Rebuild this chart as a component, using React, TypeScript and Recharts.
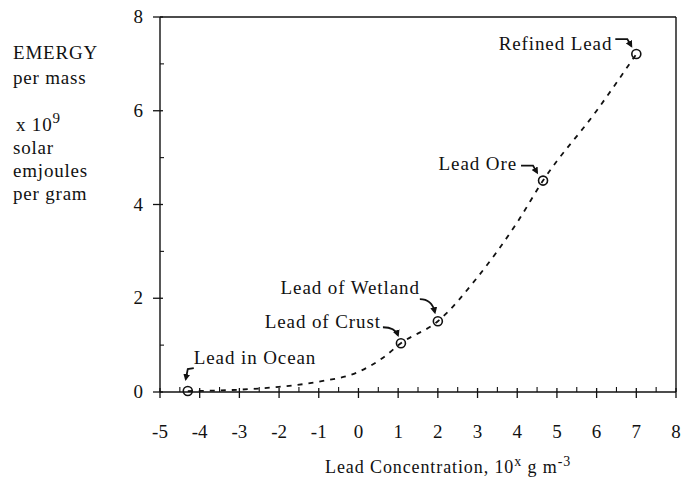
import React from "react";
import { ComposedChart, Line, Scatter, XAxis, YAxis, ReferenceLine } from "recharts";

// measured points (concentration exponent, emergy x 1e9 sej/g)
const pointNames = ["Lead in Ocean", "Lead of Crust", "Lead of Wetland", "Lead Ore", "Refined Lead"];
const pointX = [-4.3, 1.07, 2.0, 4.65, 7.0];
const pointY = [0.02, 1.04, 1.51, 4.51, 7.21];

// dashed trend curve
const curveX = [-4.3, -3, -2, -1, 0, 0.6, 1.07, 2.0, 3, 4, 4.65, 6, 7.0];
const curveY = [0.02, 0.05, 0.11, 0.22, 0.43, 0.72, 1.04, 1.51, 2.45, 3.62, 4.51, 6.0, 7.21];

const xTicks = Array.from({ length: 27 }, (_, i) => -5 + i * 0.5);
const yTicks = [0, 1, 2, 3, 4, 5, 6, 7, 8];

const points = pointNames.map((name, i) => ({ name, x: pointX[i], y: pointY[i] }));
const curve = curveX.map((x, i) => ({ x, y: curveY[i] }));

const FONT = "'Liberation Serif', 'DejaVu Serif', serif";
const INK = "#111";

// where each label sits relative to its marker, plus the little hooked arrow
const labelLayout: Record<string, { dx: number; dy: number; anchor: string; arrow: string }> = {
  "Lead in Ocean": { dx: 6, dy: -27, anchor: "start", arrow: "M6,-23 L0,-22 L-2,-12" },
  "Lead of Crust": { dx: -20, dy: -15, anchor: "end", arrow: "M-18,-16 Q-6,-16 -3,-8" },
  "Lead of Wetland": { dx: -18, dy: -27, anchor: "end", arrow: "M-18,-22 Q-6,-22 -3,-9" },
  "Lead Ore": { dx: -26, dy: -11, anchor: "end", arrow: "M-22,-15 L-10,-15 L-6,-8" },
  "Refined Lead": { dx: -24, dy: -4, anchor: "end", arrow: "M-21,-15 L-9,-15 L-5,-8" },
};

function PointShape(props: any) {
  const { cx, cy, payload, index } = props;
  const lay = labelLayout[payload.name];
  const id = `arr${index}`;
  return (
    <g>
      <defs>
        <marker id={id} markerWidth="7" markerHeight="7" refX="5" refY="3.5" orient="auto" markerUnits="userSpaceOnUse">
          <path d="M0,0 L7,3.5 L0,7 Z" fill={INK} />
        </marker>
      </defs>
      <circle cx={cx} cy={cy} r={4.5} fill="none" stroke={INK} strokeWidth={1.6} />
      <text x={cx + lay.dx} y={cy + lay.dy} textAnchor={lay.anchor} fontFamily={FONT} fontSize={19} letterSpacing={0.9} fill={INK}>
        {payload.name}
      </text>
      <path d={lay.arrow} transform={`translate(${cx},${cy})`} fill="none" stroke={INK} strokeWidth={1.8} markerEnd={`url(#${id})`} />
    </g>
  );
}

function XTick(props: any) {
  const { x, y, payload } = props;
  const v = payload.value;
  const major = Number.isInteger(v);
  return (
    <g>
      {major ? (
        <line x1={x} x2={x} y1={y - 4} y2={y + 6} stroke={INK} strokeWidth={1.3} />
      ) : (
        <line x1={x} x2={x} y1={y - 5} y2={y} stroke={INK} strokeWidth={1.1} />
      )}
      {major && (
        <text x={x} y={y + 46} textAnchor="middle" fontFamily={FONT} fontSize={19} fill={INK}>
          {String(v)}
        </text>
      )}
    </g>
  );
}

function YTick(props: any) {
  const { x, y, payload } = props;
  const v = payload.value;
  const major = v % 2 === 0;
  return (
    <g>
      {major ? (
        <line x1={x - 7} x2={x + 3} y1={y} y2={y} stroke={INK} strokeWidth={1.3} />
      ) : (
        <line x1={x} x2={x + 4} y1={y} y2={y} stroke={INK} strokeWidth={1.1} />
      )}
      {major && (
        <text x={x - 17} y={y + 6} textAnchor="end" fontFamily={FONT} fontSize={19} fill={INK}>
          {String(v)}
        </text>
      )}
    </g>
  );
}

function YTitle() {
  const t = { fontFamily: FONT, fontSize: 19, fill: INK, letterSpacing: 0.8 } as any;
  return (
    <g>
      <text x={13} y={59} {...t}>EMERGY</text>
      <text x={13} y={84} {...t}>per mass</text>
      <text x={16} y={131} {...t}>
        x 10<tspan fontSize={15} dy={-8}>9</tspan>
      </text>
      <text x={13} y={154} {...t}>solar</text>
      <text x={13} y={177} {...t}>emjoules</text>
      <text x={13} y={200} {...t}>per gram</text>
    </g>
  );
}

function XTitle() {
  return (
    <text x={325} y={473} fontFamily={FONT} fontSize={18} letterSpacing={0.9} fill={INK}>
      Lead Concentration, 10<tspan fontSize={14} dy={-7}>x</tspan>
      <tspan dy={7}> g m</tspan>
      <tspan fontSize={14} dy={-7}>-3</tspan>
    </text>
  );
}

export default function App() {
  return (
    <div style={{ position: "absolute", left: 0, top: 0, background: "#fff" }}>
      <ComposedChart width={683} height={478} margin={{ top: 17, right: 7, left: 0, bottom: 0 }}>
        <XAxis
          dataKey="x"
          type="number"
          domain={[-5, 8]}
          ticks={xTicks}
          interval={0}
          height={86}
          tickSize={0}
          tickMargin={0}
          tickLine={false}
          axisLine={{ stroke: INK, strokeWidth: 1.4 }}
          tick={<XTick />}
          label={{ content: () => <XTitle /> }}
        />
        <YAxis
          dataKey="y"
          type="number"
          domain={[0, 8]}
          ticks={yTicks}
          interval={0}
          width={160}
          tickSize={0}
          tickMargin={0}
          tickLine={false}
          axisLine={{ stroke: INK, strokeWidth: 1.4 }}
          tick={<YTick />}
          label={{ content: () => <YTitle /> }}
        />
        <ReferenceLine y={8} stroke={INK} strokeWidth={1.4} />
        <ReferenceLine x={8} stroke={INK} strokeWidth={1.4} />
        <Line
          data={curve}
          dataKey="y"
          type="monotone"
          stroke={INK}
          strokeWidth={1.8}
          strokeDasharray="5 6"
          dot={false}
          isAnimationActive={false}
        />
        <Scatter data={points} dataKey="y" shape={<PointShape />} isAnimationActive={false} />
      </ComposedChart>
    </div>
  );
}
